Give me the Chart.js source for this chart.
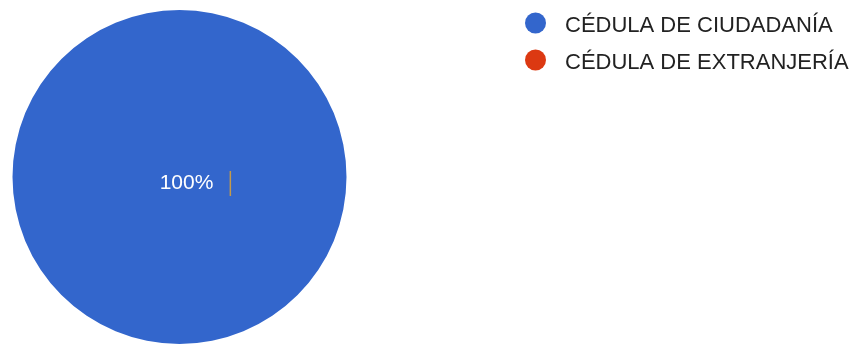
<!DOCTYPE html>
<html>
<head>
<meta charset="utf-8">
<script src="https://cdn.jsdelivr.net/npm/chart.js@4.4.0/dist/chart.umd.min.js"></script>
<style>
  html, body { margin: 0; padding: 0; background: #fff; }
</style>
</head>
<body>
<canvas id="myChart" width="855" height="345"></canvas>
<script>
// --- data ---
var labels = ['CÉDULA DE CIUDADANÍA', 'CÉDULA DE EXTRANJERÍA'];
var values = [100, 0];
var colors = ['#3366cc', '#dc3912'];

// legend on the right, drawn by hand so the dot/text spacing matches
var sideLegend = {
	id: 'sideLegend',
	afterDraw: function(chart) {
		var ctx = chart.ctx;
		ctx.save();
		ctx.font = '22px "Liberation Sans", Arial, sans-serif';
		ctx.textBaseline = 'middle';
		for (var i = 0; i < labels.length; i++) {
			var y = 23 + i * 37;
			ctx.fillStyle = colors[i];
			ctx.beginPath();
			ctx.arc(535.5, y, 10.5, 0, Math.PI * 2);
			ctx.fill();
			ctx.fillStyle = '#222';
			ctx.fillText(labels[i], 565, y + 3);
		}
		ctx.restore();
	}
};

// percent label inside the slice
var pctLabel = {
	id: 'pctLabel',
	afterDatasetsDraw: function(chart) {
		var meta = chart.getDatasetMeta(0);
		var total = values.reduce((a, b) => a + b, 0);
		var ctx = chart.ctx;
		ctx.save();
		ctx.font = '21px "Liberation Sans", Arial, sans-serif';
		ctx.textAlign = 'center';
		ctx.textBaseline = 'middle';
		meta.data.forEach(function(arc, i) {
			if (!values[i]) return;
			var txt = Math.round(values[i] / total * 100) + '%';
			var x, y;
			if (values[i] == total) {
				x = arc.x + 7;
				y = arc.y + 6;
			} else {
				var p = arc.tooltipPosition();
				x = p.x;
				y = p.y;
			}
			ctx.fillStyle = '#fff';
			ctx.fillText(txt, x, y);
			// the little caret seen next to the label
			var w = ctx.measureText(txt).width;
			ctx.strokeStyle = '#c49a4a';
			ctx.lineWidth = 1.5;
			ctx.beginPath();
			ctx.moveTo(x + w / 2 + 17, y - 12);
			ctx.lineTo(x + w / 2 + 17, y + 13);
			ctx.stroke();
		});
		ctx.restore();
	}
};

var myChart = new Chart(document.getElementById('myChart'), {
	type: 'pie',
	data: {
		labels: labels,
		datasets: [{
			data: values,
			backgroundColor: colors,
			borderWidth: 0
		}]
	},
	options: {
		responsive: false,
		animation: false,
		layout: {
			padding: { left: 12, top: 10, right: 508, bottom: 1 }
		},
		plugins: {
			legend: { display: false },
			tooltip: { enabled: false }
		}
	},
	plugins: [pctLabel, sideLegend]
});
</script>
</body>
</html>
